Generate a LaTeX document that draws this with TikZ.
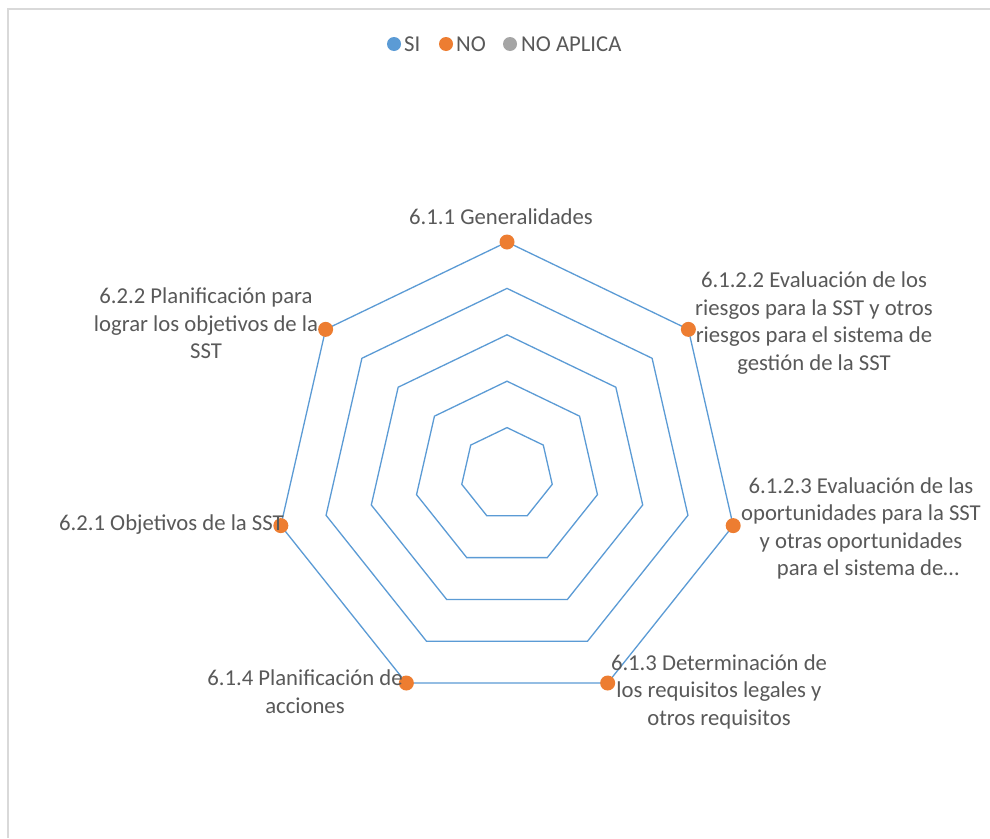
\documentclass[tikz,border=0pt]{standalone}
\usepackage{fontspec}
\setmainfont{Carlito}
\definecolor{siblue}{HTML}{5B9BD5}
\definecolor{noorange}{HTML}{ED7D31}
\definecolor{nagray}{HTML}{A5A5A5}
\definecolor{txtgray}{HTML}{595959}
\definecolor{framegray}{HTML}{D9D9D9}
\tikzset{
  lbl/.style={text=txtgray, font=\fontsize{22.7}{27.5}\selectfont, align=center, inner sep=0pt},
  ring/.style={draw=siblue, line width=1.3pt, line join=miter},
  dotm/.style={circle, fill=noorange, inner sep=0pt, minimum size=15pt},
  legdot/.style={circle, inner sep=0pt, minimum size=14pt},
}
\begin{document}
\begin{tikzpicture}[x=1pt,y=-1pt]
\useasboundingbox (0,0) rectangle (990,838);
\fill[white] (0,0) rectangle (990,838);
% frame
\draw[framegray, line width=1.5pt] (8,838) -- (8,9) -- (990,9);
% rings
\foreach \f in {0.2,0.4,0.6,0.8,1.0}{
  \draw[ring] ({507+232*\f*cos(90)},{474-232*\f*sin(90)})
    \foreach \k in {1,...,6}{ -- ({507+232*\f*cos(90-\k*360/7)},{474-232*\f*sin(90-\k*360/7)}) } -- cycle;
}
% outer vertices and markers
\foreach \k in {0,...,6}{
  \coordinate (v\k) at ({507+232*cos(90-\k*360/7)},{474-232*sin(90-\k*360/7)});
}
\foreach \k in {0,...,6}{
  \node[dotm] (m\k) at (v\k) {};
}
% labels
\node[lbl] (l0) at (501,217) {6.1.1 Generalidades};
\node[lbl] (l1) at (814,323) {6.1.2.2 Evaluación de los\\riesgos para la SST y otros\\riesgos para el sistema de\\gestión de la SST};
\node[lbl] (l2) at (861,528.5) {6.1.2.3 Evaluación de las\\oportunidades para la SST\\y otras oportunidades\\\hspace*{14pt}para el sistema de…};
\node[lbl] (l3) at (719,691.5) {6.1.3 Determinación de\\los requisitos legales y\\otros requisitos};
\node[lbl] (l4) at (305,691.5) {6.1.4 Planificación de\\acciones};
\node[lbl, anchor=east] (l5) at (284,525) {6.2.1 Objetivos de la SST};
\node[lbl] (l6) at (206,323.5) {6.2.2 Planificación para\\lograr los objetivos de la\\SST};
% legend
\node[legdot, fill=siblue] (ls) at (394,44) {};
\node[lbl, anchor=west] (lst) at (404,44) {SI};
\node[legdot, fill=noorange] (ln) at (446,44) {};
\node[lbl, anchor=west] (lnt) at (456,44) {NO};
\node[legdot, fill=nagray] (la) at (510,44) {};
\node[lbl, anchor=west] (lat) at (521,44) {NO APLICA};
\end{tikzpicture}
\end{document}
